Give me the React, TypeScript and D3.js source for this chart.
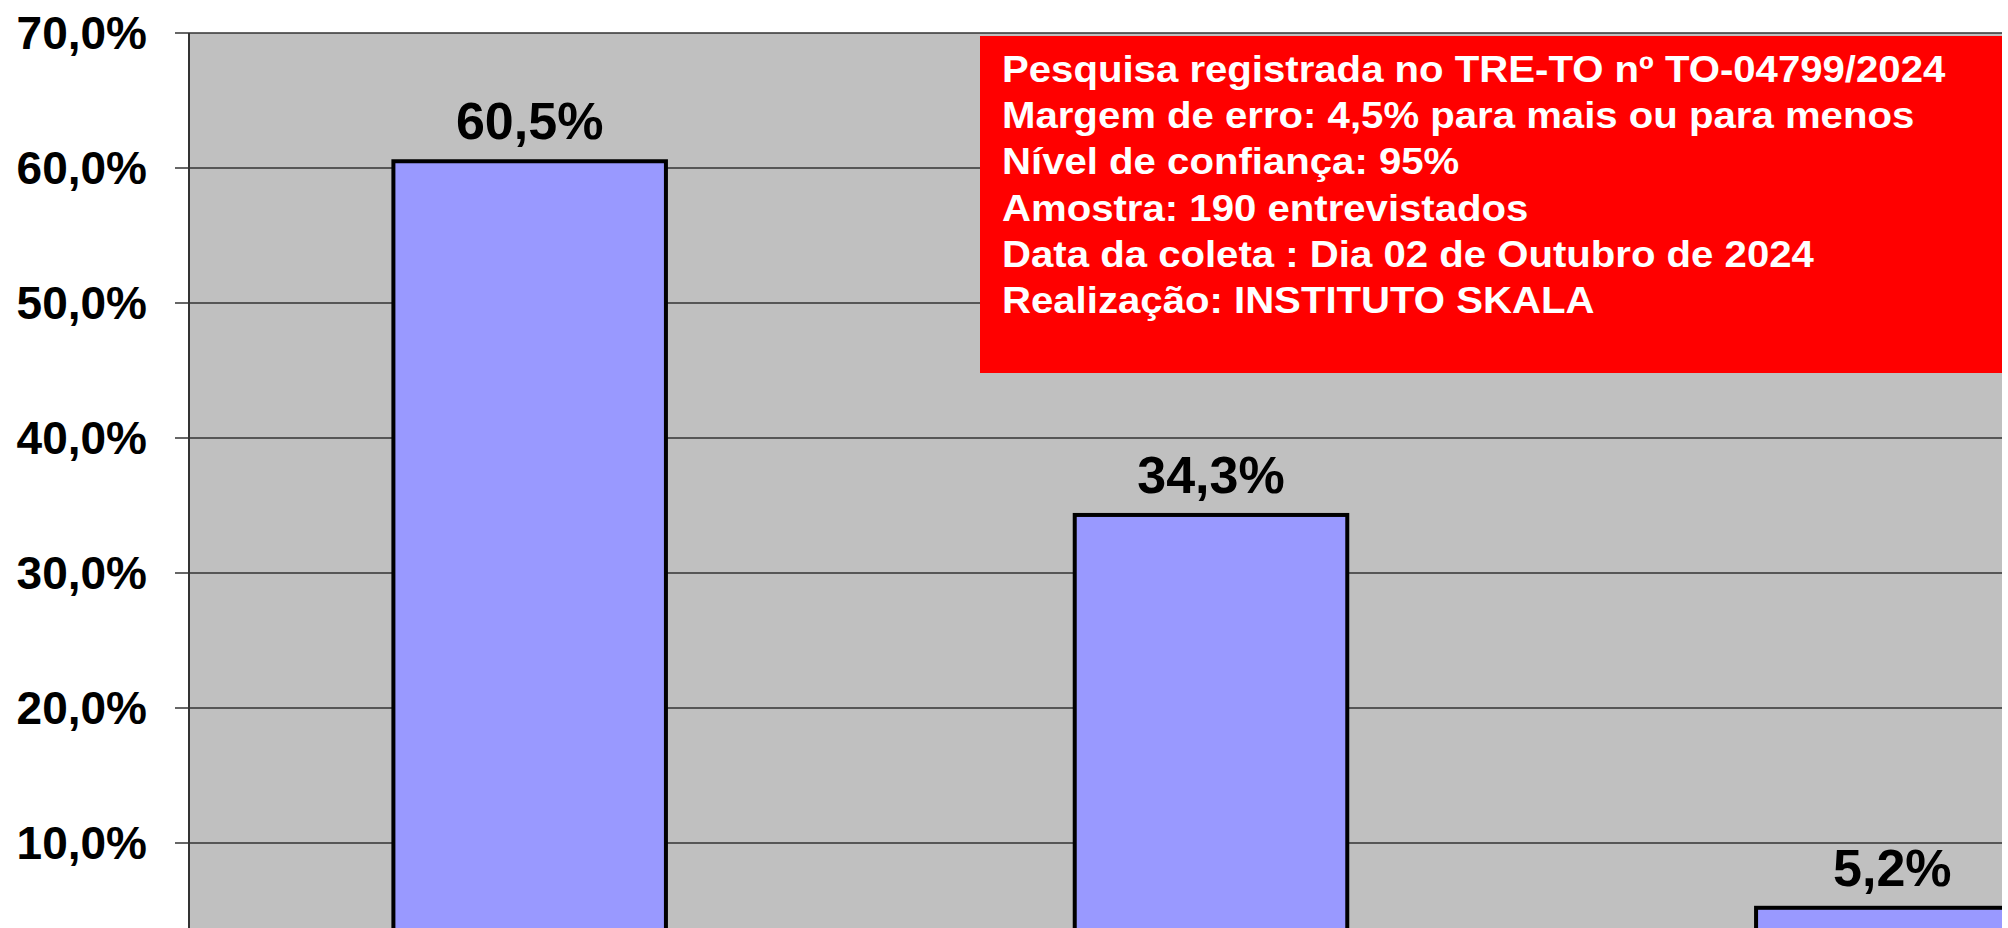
import { useRef, useEffect } from "react";
import * as d3 from "d3";

const categories = ["A", "B", "C"];
const values = [60.5, 34.3, 5.2];
const valueLabels = ["60,5%", "34,3%", "5,2%"];
const yTicks = [0, 10, 20, 30, 40, 50, 60, 70];
const infoLines = [
  "Pesquisa registrada no TRE-TO nº TO-04799/2024",
  "Margem de erro: 4,5% para mais ou para menos",
  "Nível de confiança: 95%",
  "Amostra: 190 entrevistados",
  "Data da coleta : Dia 02 de Outubro de 2024",
  "Realização: INSTITUTO SKALA",
];

const width = 2008;
const height = 928;
const font = "'Liberation Sans', Arial, sans-serif";

export default function App() {
  const ref = useRef<SVGSVGElement | null>(null);

  useEffect(() => {
    document.body.style.margin = "0";
    const svg = d3.select(ref.current).attr("width", width).attr("height", height);
    svg.selectAll("*").remove();

    const left = 189;
    const top = 33;
    const visibleRight = 2002;

    const x = d3
      .scaleBand<string>()
      .domain(categories)
      .range([left, 2233])
      .paddingInner(0.6)
      .paddingOuter(0.3);

    const y = d3.scaleLinear().domain([0, 70]).range([978, top]);
    const shownTicks = yTicks.filter((d) => y(d) < height);

    svg
      .append("clipPath")
      .attr("id", "plot-clip")
      .append("rect")
      .attr("x", left)
      .attr("y", 0)
      .attr("width", visibleRight - left)
      .attr("height", height);

    const plot = svg.append("g").attr("clip-path", "url(#plot-clip)");

    plot
      .append("rect")
      .attr("x", left)
      .attr("y", top)
      .attr("width", 2233 - left)
      .attr("height", 978 - top)
      .attr("fill", "#c0c0c0");

    plot
      .selectAll("line.grid")
      .data(shownTicks)
      .join("line")
      .attr("class", "grid")
      .attr("x1", left)
      .attr("x2", 2233)
      .attr("y1", (d) => y(d))
      .attr("y2", (d) => y(d))
      .attr("stroke", "#333")
      .attr("stroke-width", 1.5);

    plot
      .selectAll("rect.bar")
      .data(values)
      .join("rect")
      .attr("class", "bar")
      .attr("x", (_, i) => x(categories[i])!)
      .attr("y", (d) => y(d))
      .attr("width", x.bandwidth())
      .attr("height", (d) => y(0) - y(d))
      .attr("fill", "#9999ff")
      .attr("stroke", "#000")
      .attr("stroke-width", 4);

    plot
      .selectAll("text.val")
      .data(values)
      .join("text")
      .attr("class", "val")
      .attr("x", (_, i) => x(categories[i])! + x.bandwidth() / 2)
      .attr("y", (d) => y(d) - 22)
      .attr("text-anchor", "middle")
      .attr("font-family", font)
      .attr("font-weight", "bold")
      .attr("font-size", 52)
      .attr("fill", "#000")
      .text((_, i) => valueLabels[i]);

    // axis line and ticks
    svg
      .append("line")
      .attr("x1", left)
      .attr("x2", left)
      .attr("y1", top)
      .attr("y2", height)
      .attr("stroke", "#333")
      .attr("stroke-width", 2);

    svg
      .selectAll("line.tick")
      .data(shownTicks)
      .join("line")
      .attr("class", "tick")
      .attr("x1", 175)
      .attr("x2", left)
      .attr("y1", (d) => y(d))
      .attr("y2", (d) => y(d))
      .attr("stroke", "#333")
      .attr("stroke-width", 1.5);

    svg
      .selectAll("text.ylab")
      .data(shownTicks)
      .join("text")
      .attr("class", "ylab")
      .attr("x", 147)
      .attr("y", (d) => y(d) + 16)
      .attr("text-anchor", "end")
      .attr("font-family", font)
      .attr("font-weight", "bold")
      .attr("font-size", 46)
      .attr("fill", "#000")
      .text((d) => d.toFixed(1).replace(".", ",") + "%");

    // info box
    svg
      .append("rect")
      .attr("x", 980)
      .attr("y", 36)
      .attr("width", visibleRight - 980)
      .attr("height", 373 - 36)
      .attr("fill", "#ff0000");

    svg
      .append("g")
      .attr("transform", "translate(1002,0) scale(1.085,1)")
      .selectAll("text")
      .data(infoLines)
      .join("text")
      .attr("x", 0)
      .attr("y", (_, i) => 82 + i * 46.2)
      .attr("font-family", font)
      .attr("font-weight", "bold")
      .attr("font-size", 37)
      .attr("fill", "#fff")
      .text((d) => d);
  }, []);

  return <svg ref={ref} style={{ display: "block" }} />;
}
